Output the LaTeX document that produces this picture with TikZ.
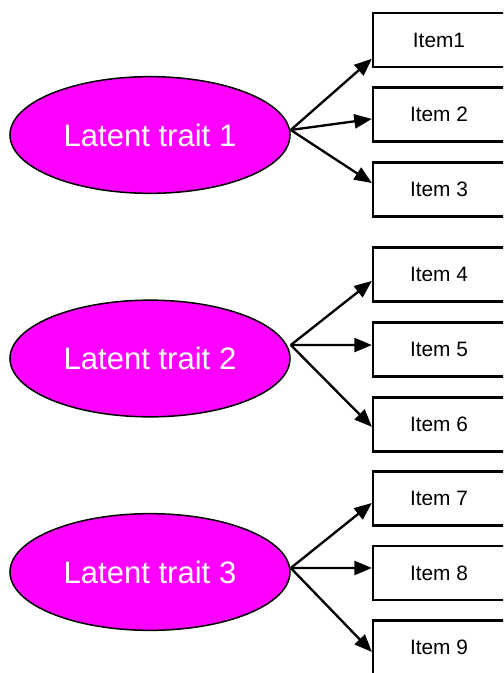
\documentclass[tikz,border=0pt]{standalone}
\usepackage{fontspec}
\setmainfont{Liberation Sans}
\usetikzlibrary{shapes.geometric,arrows.meta}
\definecolor{traitfill}{RGB}{255,0,255}

\tikzset{
    trait/.style={ellipse, draw, line width=1.3pt, fill=traitfill, text=white, inner sep=0pt,
        minimum width=8.4cm, minimum height=3.5cm, font=\fontsize{26.5}{30}\selectfont},
    item/.style={rectangle, draw, line width=1.9pt, fill=white, inner sep=0pt,
        minimum width=3.96cm, minimum height=1.62cm, font=\fontsize{17.8}{20}\selectfont},
    link/.style={-{Triangle[length=15pt,width=12pt]}, line width=2pt}
}

\begin{document}
\begin{tikzpicture}[x=0.03cm, y=-0.03cm]
                \useasboundingbox (0,0) rectangle (503,673);
                \clip (0,0) rectangle (503,673);
                \node[trait] (t1) at (150,135) {Latent trait 1};
                \node[trait] (t2) at (150,358.5) {Latent trait 2};
                \node[trait] (t3) at (150,572) {Latent trait 3};
                \node[item] (i1) at (439,40) {Item1};
                \node[item] (i2) at (439,114.5) {Item 2};
                \node[item] (i3) at (439,189.5) {Item 3};
                \node[item] (i4) at (439,274.5) {Item 4};
                \node[item] (i5) at (439,349.5) {Item 5};
                \node[item] (i6) at (439,424.5) {Item 6};
                \node[item] (i7) at (439,498.5) {Item 7};
                \node[item] (i8) at (439,573) {Item 8};
                \node[item] (i9) at (439,647.5) {Item 9};
                \coordinate (o1) at ([yshift=4.3pt]t1.east);
                \coordinate (o2) at ([yshift=11.5pt]t2.east);
                \coordinate (o3) at ([yshift=3.4pt]t3.east);
                \draw[link] (o1) -- ([yshift=-16pt]i1.west);
                \draw[link] (o1) -- ([yshift=-3.8pt]i2.west);
                \draw[link] (o1) -- ([yshift=5.5pt]i3.west);
                \draw[link] (o2) -- ([yshift=-5.5pt]i4.west);
                \draw[link] (o2) -- ([yshift=3.8pt]i5.west);
                \draw[link] (o2) -- ([yshift=-2pt]i6.west);
                \draw[link] (o3) -- ([yshift=-3.8pt]i7.west);
                \draw[link] (o3) -- ([yshift=4.3pt]i8.west);
                \draw[link] (o3) -- ([yshift=-3.8pt]i9.west);
            \end{tikzpicture}
\end{document}
